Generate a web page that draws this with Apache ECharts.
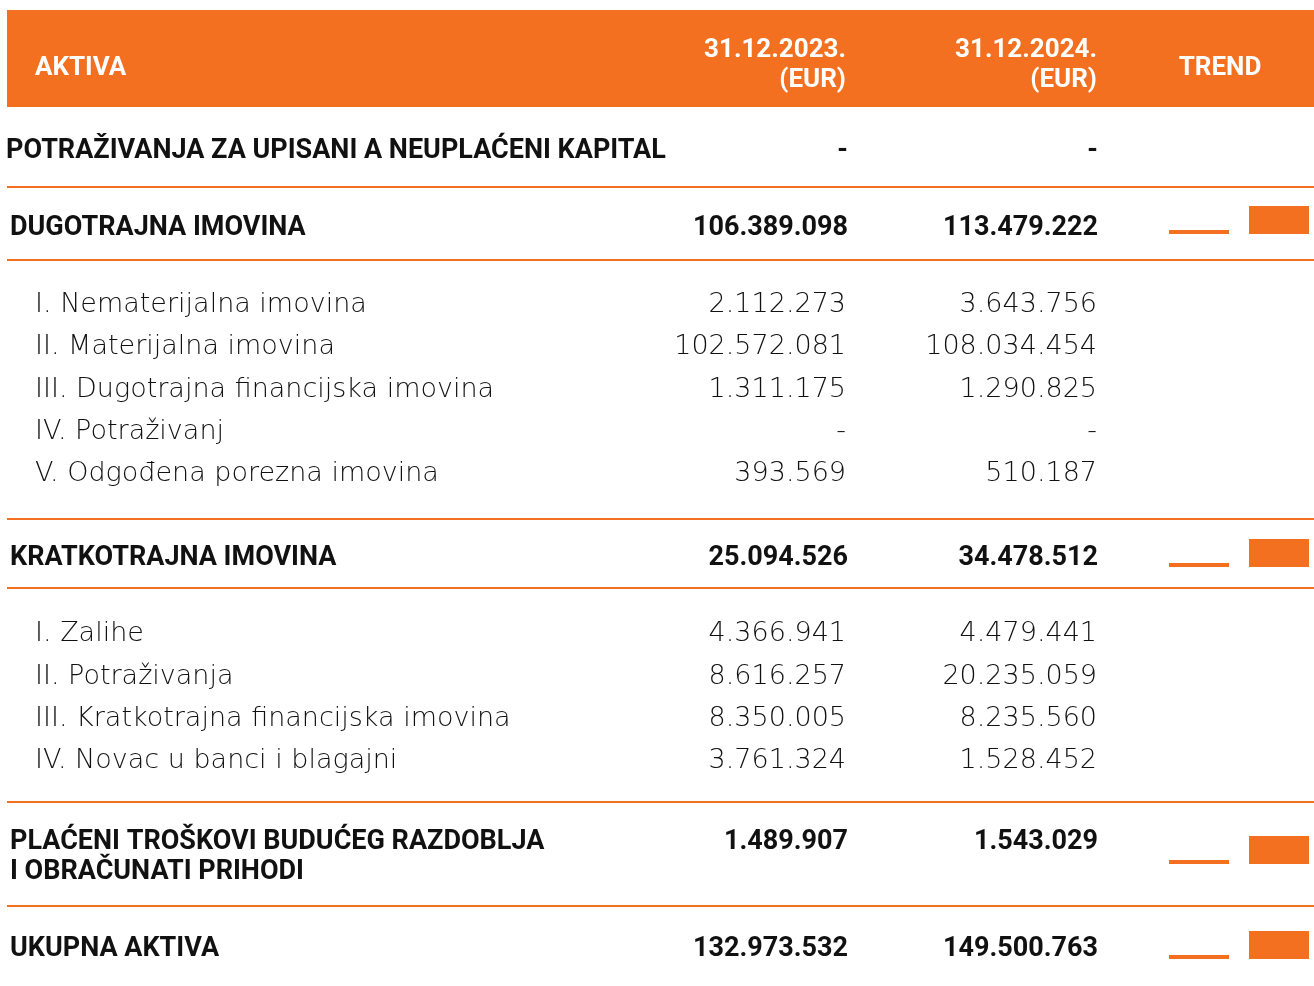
<!DOCTYPE html>
<html>
<head>
<meta charset="utf-8">
<script src="https://cdn.jsdelivr.net/npm/echarts@6/dist/echarts.min.js"></script>
<style>
html,body{margin:0;padding:0;background:#fff;}
#chart{width:1314px;height:986px;}
</style>
</head>
<body>
<div id="chart"></div>
<script>
// ---- data ----
const headerLabels = ['AKTIVA', '31.12.2023.\n(EUR)', '31.12.2024.\n(EUR)', 'TREND'];
const years = ['2023', '2024'];

const sectionLabels = [
  'POTRAŽIVANJA ZA UPISANI A NEUPLAĆENI KAPITAL',
  'DUGOTRAJNA IMOVINA',
  'KRATKOTRAJNA IMOVINA',
  'PLAĆENI TROŠKOVI BUDUĆEG RAZDOBLJA\nI OBRAČUNATI PRIHODI',
  'UKUPNA AKTIVA'
];
const section2023 = [null, 106389098, 25094526, 1489907, 132973532];
const section2024 = [null, 113479222, 34478512, 1543029, 149500763];

const dugotrajnaLabels = [
  'I. Nematerijalna imovina',
  'II. Materijalna imovina',
  'III. Dugotrajna financijska imovina',
  'IV. Potraživanj',
  'V. Odgođena porezna imovina'
];
const dugotrajna2023 = [2112273, 102572081, 1311175, null, 393569];
const dugotrajna2024 = [3643756, 108034454, 1290825, null, 510187];

const kratkotrajnaLabels = [
  'I. Zalihe',
  'II. Potraživanja',
  'III. Kratkotrajna financijska imovina',
  'IV. Novac u banci i blagajni'
];
const kratkotrajna2023 = [4366941, 8616257, 8350005, 3761324];
const kratkotrajna2024 = [4479441, 20235059, 8235560, 1528452];

// ---- layout / style ----
const ORANGE = '#F37021';
const BOLD_FONT = 'Roboto, "Liberation Sans", sans-serif';
const LIGHT_FONT = '"DejaVu Sans", sans-serif';
const col2023 = 847, col2024 = 1097;

const sectionY = [151, 228, 558, 842, 949];
const dugY = [305, 347, 390, 432, 474];
const kratY = [634, 677, 719, 761];
const ruleY = [187, 260, 519, 588, 802, 906];
const trendTop = [null, 206, 539, 836, 931];

function fmt(v) {
  if (v === null || v === undefined) return '-';
  return String(v).replace(/\B(?=(\d{3})+(?!\d))/g, '.');
}

const graphic = [];
graphic.push({type:'rect', shape:{x:7, y:10, width:1307, height:97}, style:{fill:ORANGE}, silent:true});
function txt(x, y, text, opts) {
  graphic.push({type:'text', x:x, y:y, silent:true, style:Object.assign({
    text:text, textVerticalAlign:'middle', textAlign:'left', fill:'#111'
  }, opts)});
}
const hdrFont = {fontFamily:BOLD_FONT, fontWeight:'bold', fontSize:26, fill:'#fff'};
txt(35, 68, headerLabels[0], hdrFont);
[col2023 - 1, col2024].forEach((cx, i) => {
  const parts = headerLabels[i + 1].split('\n');
  txt(cx, 50, parts[0], Object.assign({textAlign:'right'}, hdrFont));
  txt(cx, 80, parts[1], Object.assign({textAlign:'right'}, hdrFont));
});
txt(1220, 68, headerLabels[3], Object.assign({textAlign:'center'}, hdrFont));

ruleY.forEach(y => graphic.push({type:'line', silent:true, shape:{x1:7, y1:y, x2:1314, y2:y}, style:{stroke:ORANGE, lineWidth:2}}));

const boldFont = {fontFamily:BOLD_FONT, fontWeight:'bold', fontSize:27, fill:'#111'};
sectionLabels.forEach((lab, i) => {
  const lines = lab.split('\n');
  lines.forEach((l, k) => txt(i === 0 ? 6 : 10, sectionY[i] + k * 30, l, boldFont));
  txt(col2023 + 1, sectionY[i], fmt(section2023[i]), Object.assign({textAlign:'right'}, boldFont));
  txt(col2024 + 1, sectionY[i], fmt(section2024[i]), Object.assign({textAlign:'right'}, boldFont));
});

const lightFont = {fontFamily:LIGHT_FONT, fontWeight:200, fontSize:27, fill:'#111'};
function subRows(labels, v23, v24, ys) {
  labels.forEach((lab, i) => {
    txt(35, ys[i], lab, lightFont);
    txt(col2023 - 1, ys[i], fmt(v23[i]), Object.assign({textAlign:'right'}, lightFont));
    txt(col2024, ys[i], fmt(v24[i]), Object.assign({textAlign:'right'}, lightFont));
  });
}
subRows(dugotrajnaLabels, dugotrajna2023, dugotrajna2024, dugY);
subRows(kratkotrajnaLabels, kratkotrajna2023, kratkotrajna2024, kratY);

// ---- trend mini bar charts (one bar per year, side by side) ----
const grids = [], xAxes = [], yAxes = [], series = [];
sectionLabels.forEach((lab, i) => {
  if (section2023[i] === null) return;
  const idx = grids.length;
  grids.push({left:1169, width:140, top:trendTop[i], height:28});
  xAxes.push({type:'category', gridIndex:idx, data:['trend'], show:false});
  yAxes.push({type:'value', gridIndex:idx, show:false,
    min: function (e) { return e.min - (e.max - e.min) / 6; },
    max: function (e) { return e.max; }});
  [section2023[i], section2024[i]].forEach((v, k) => {
    series.push({type:'bar', name:years[k], xAxisIndex:idx, yAxisIndex:idx, barWidth:60, barGap:'33.334%',
      silent:true, itemStyle:{color:ORANGE}, data:[v]});
  });
});

const chart = echarts.init(document.getElementById('chart'));
chart.setOption({
  animation:false,
  grid:grids, xAxis:xAxes, yAxis:yAxes, series:series,
  graphic:graphic
});
</script>
</body>
</html>
